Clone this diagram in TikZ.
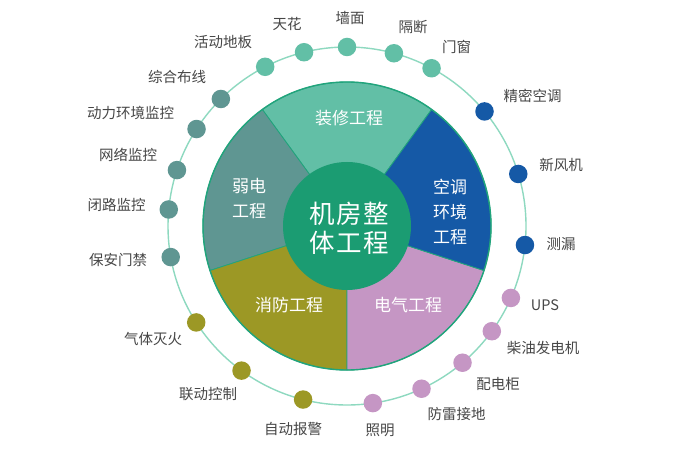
\documentclass[tikz,border=0pt]{standalone}
\usepackage{fontspec}
\setmainfont{Noto Sans CJK SC}
\newfontfamily\hubfont[LetterSpace=6]{Noto Sans CJK SC}
\definecolor{zx}{HTML}{62BFA6}
\definecolor{rd}{HTML}{5F9692}
\definecolor{xf}{HTML}{9C9825}
\definecolor{dq}{HTML}{C596C4}
\definecolor{kt}{HTML}{1559A6}
\definecolor{cen}{HTML}{1B9C72}
\definecolor{ring}{HTML}{8ED9C0}
\definecolor{edge}{HTML}{21A47C}
\definecolor{lbl}{HTML}{464646}
\tikzset{
  dotnode/.style={circle,inner sep=0pt,minimum size=18.5pt,draw=none},
  outlabel/.style={text=lbl,font=\fontsize{14.5}{16}\selectfont,inner sep=0pt},
  seclabel/.style={text=white,font=\fontsize{17}{25}\selectfont,align=center,inner sep=0pt},
  sector/.style={draw=edge,line width=0.8pt}
}
\begin{document}
\begin{tikzpicture}[x=1pt,y=1pt]
\useasboundingbox[fill=white] (0,0) rectangle (700,455);
\coordinate (C) at (347,229);
% outer ring
\draw[ring,line width=1.4pt] (C) circle[radius=179pt];
% sectors
\filldraw[sector,fill=zx] (C) -- ++(54:144pt) arc[start angle=54,end angle=126,radius=144pt] -- cycle;
\filldraw[sector,fill=rd] (C) -- ++(126:144pt) arc[start angle=126,end angle=198,radius=144pt] -- cycle;
\filldraw[sector,fill=xf] (C) -- ++(198:144pt) arc[start angle=198,end angle=270,radius=144pt] -- cycle;
\filldraw[sector,fill=dq] (C) -- ++(270:144pt) arc[start angle=270,end angle=342,radius=144pt] -- cycle;
\filldraw[sector,fill=kt] (C) -- ++(342:144pt) arc[start angle=342,end angle=414,radius=144pt] -- cycle;
\draw[edge,line width=1.4pt] (C) circle[radius=144pt];
% centre
\node[circle,fill=cen,minimum size=128pt,inner sep=0pt] (hub) at (C) {};
\node[text=white,font=\hubfont\fontsize{25.5}{28.5}\selectfont,align=center,inner sep=0pt] (hubtext) at (349,226.5) {机房整\\体工程};
% sector labels
\node[seclabel] (s1) at (349,337) {装修工程};
\node[seclabel] (s2) at (249,256) {弱电\\工程};
\node[seclabel] (s3) at (450,243) {空调\\环境\\工程};
\node[seclabel] (s4) at (289,150) {消防工程};
\node[seclabel] (s5) at (408,150) {电气工程};
% dots
\foreach \a/\c/\n in {90/zx/qm,103.9/zx/th,117.2/zx/hd,74.8/zx/gd,61.8/zx/mc,
  134.8/rd/zh,147.2/rd/dl,161.8/rd/wl,174.7/rd/bl,190/rd/ba,
  212.6/xf/qt,233.9/xf/ld,255.8/xf/zd,
  278.3/dq/zm,294.6/dq/fl,310.2/dq/pd,324/dq/cy,336.3/dq/ups,
  353.9/kt/cl,16.9/kt/xf,39.8/kt/jm}
  \node[dotnode,fill=\c] (d\n) at ([shift={(\a:179pt)}]C) {};
% outer labels
\node[outlabel] (lqm) at (350,437) {墙面};
\node[outlabel] (lth) at (287,431) {天花};
\node[outlabel] (lhd) at (223,412.5) {活动地板};
\node[outlabel] (lgd) at (413,428) {隔断};
\node[outlabel] (lmc) at (456.5,408.5) {门窗};
\node[outlabel] (ljm) at (532.5,359) {精密空调};
\node[outlabel] (lxf) at (561,290) {新风机};
\node[outlabel] (lcl) at (561,211) {测漏};
\node[outlabel] (lups) at (545,150) {UPS};
\node[outlabel] (lcy) at (543,107.5) {柴油发电机};
\node[outlabel] (lpd) at (498,71) {配电柜};
\node[outlabel] (lfl) at (456.5,40.5) {防雷接地};
\node[outlabel] (lzm) at (380,25) {照明};
\node[outlabel] (lzd) at (293,26) {自动报警};
\node[outlabel] (lld) at (208,60.5) {联动控制};
\node[outlabel] (lqt) at (153,116.5) {气体灭火};
\node[outlabel] (lba) at (118,195) {保安门禁};
\node[outlabel] (lbl) at (116.5,250) {闭路监控};
\node[outlabel] (lwl) at (128,300) {网络监控};
\node[outlabel] (ldl) at (130.5,342.5) {动力环境监控};
\node[outlabel] (lzh) at (177,378.5) {综合布线};
\end{tikzpicture}
\end{document}
